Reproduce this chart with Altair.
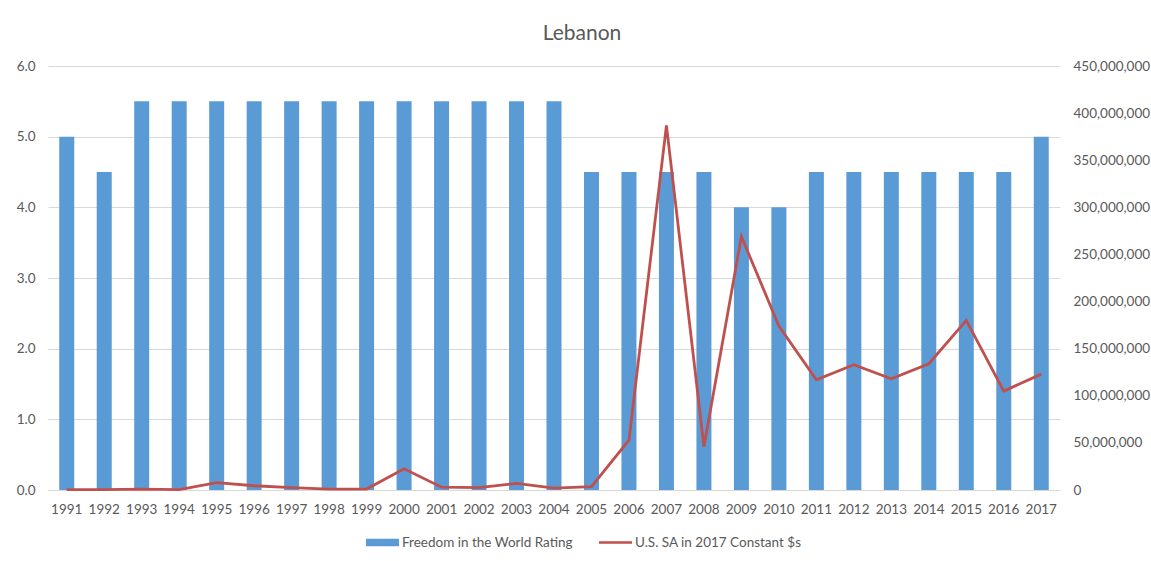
import altair as alt
import pandas as pd

# Lebanon: Freedom in the World rating (bars, left axis) and
# U.S. security assistance in constant 2017 dollars (line, right axis)
years = [str(y) for y in range(1991, 2018)]
rating = [5.0, 4.5, 5.5, 5.5, 5.5, 5.5, 5.5, 5.5, 5.5, 5.5, 5.5, 5.5, 5.5, 5.5,
          4.5, 4.5, 4.5, 4.5, 4.0, 4.0, 4.5, 4.5, 4.5, 4.5, 4.5, 4.5, 5.0]
aid = [0.5e6, 0.5e6, 1.0e6, 0.5e6, 7.8e6, 4.5e6, 2.5e6, 1.0e6, 1.0e6, 22.5e6,
       3.0e6, 2.5e6, 7.0e6, 2.0e6, 3.5e6, 53e6, 387e6, 46e6, 269e6, 174e6,
       117e6, 133e6, 118e6, 134e6, 180e6, 105e6, 123e6]

bar_name = "Freedom in the World Rating"
line_name = "U.S. SA in 2017 Constant $s"
series_names = [bar_name, line_name]
series_colors = ["#5B9BD5", "#C0504D"]
left_ticks = [0, 1, 2, 3, 4, 5, 6]
right_ticks = [0, 50e6, 100e6, 150e6, 200e6, 250e6, 300e6, 350e6, 400e6, 450e6]

FONT = "Lato"
TEXT = "#595959"
GRID = "#D9D9D9"
LABEL_SIZE = 13.5

bars_df = pd.DataFrame({"year": years, "rating": rating})
line_df = pd.DataFrame({"year": years, "aid": aid})
key_df = pd.DataFrame({"series": series_names})

x_enc = alt.X(
    "year:N",
    title=None,
    scale=alt.Scale(paddingInner=0.6, paddingOuter=0.3),
    axis=alt.Axis(labelAngle=0, ticks=False, domainColor=GRID, grid=False,
                  labelPadding=12, labelFontSize=LABEL_SIZE, labelColor=TEXT,
                  labelFont=FONT),
)

bars = alt.Chart(bars_df).mark_bar(color=series_colors[0]).encode(
    x=x_enc,
    y=alt.Y(
        "rating:Q",
        title=None,
        scale=alt.Scale(domain=[0, 6], nice=False),
        axis=alt.Axis(values=left_ticks, format=".1f", ticks=False, domain=False,
                      gridColor=GRID, labelPadding=13, labelFontSize=LABEL_SIZE,
                      labelColor=TEXT, labelFont=FONT),
    ),
)

line = alt.Chart(line_df).mark_line(color=series_colors[1], strokeWidth=2.8).encode(
    x=x_enc,
    y=alt.Y(
        "aid:Q",
        title=None,
        scale=alt.Scale(domain=[0, 450e6], nice=False),
        axis=alt.Axis(orient="right", values=right_ticks, format=",.0f", ticks=False,
                      domain=False, grid=False, labelPadding=13,
                      labelFontSize=LABEL_SIZE, labelColor=TEXT, labelFont=FONT),
    ),
)

# Legend key: a swatch for the bars and a thin stroke for the line
legend = alt.Legend(
    title=None, orient="none", direction="horizontal",
    legendX=318, legendY=460,
    symbolSize=1089, symbolStrokeWidth=0, symbolOpacity=1,
    labelOffset=3, columnPadding=26, labelLimit=400,
    labelFontSize=LABEL_SIZE, labelColor=TEXT, labelFont=FONT,
)
key = alt.Chart(key_df).mark_point(filled=True, opacity=0).encode(
    x=alt.value(0),
    y=alt.value(0),
    color=alt.Color("series:N", scale=alt.Scale(domain=series_names, range=series_colors),
                    legend=legend),
    shape=alt.Shape("series:N",
                    scale=alt.Scale(domain=series_names,
                                    range=["M-1,-0.22H1V0.22H-1Z", "M-1,-0.08H1V0.08H-1Z"]),
                    legend=legend),
)

chart = (
    alt.layer(bars, line, key)
    .resolve_scale(y="independent")
    .properties(
        width=1012,
        height=424,
        padding={"left": 48, "top": 66, "right": 91, "bottom": 71},
        autosize=alt.AutoSizeParams(type="none"),
        title=alt.TitleParams("Lebanon", fontSize=21, fontWeight="normal",
                              color=TEXT, font=FONT, anchor="middle", dx=28, offset=15),
    )
    .configure_view(stroke=None)
)

chart.save("out.html", embed_options={"renderer": "svg", "actions": False})
